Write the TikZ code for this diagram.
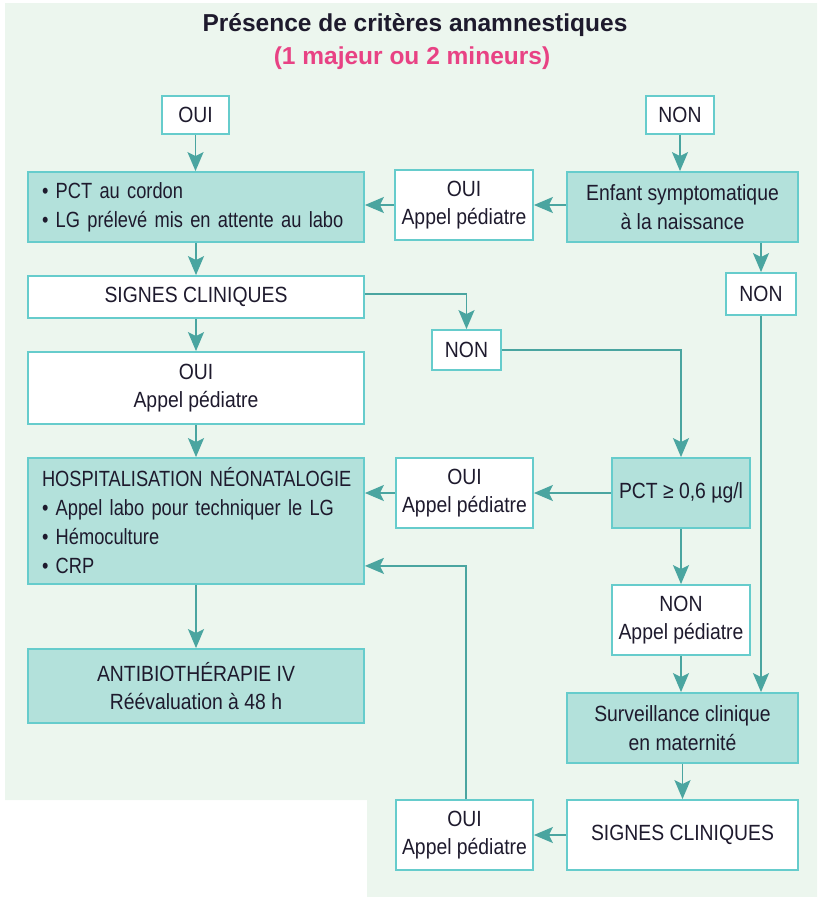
\documentclass[tikz,border=0pt]{standalone}
\usepackage{fontspec}
\setmainfont[FakeStretch=0.88]{Liberation Sans}
\newfontfamily\titlefont{Liberation Sans}
\newfontfamily\narrowfont[FakeStretch=0.83]{Liberation Sans}
\usetikzlibrary{arrows.meta}
\definecolor{bggreen}{RGB}{236,246,238}
\definecolor{boxfill}{RGB}{179,225,219}
\definecolor{boxline}{RGB}{102,204,204}
\definecolor{conn}{RGB}{74,165,160}
\definecolor{txt}{RGB}{30,26,45}
\definecolor{pink}{RGB}{232,66,132}
\tikzset{
  basebox/.style={draw=boxline, line width=1.8pt, inner sep=0pt, align=center, text=txt,
     font=\fontsize{22}{28.5}\selectfont},
  wbox/.style={basebox, fill=white},
  tbox/.style={basebox, fill=boxfill},
  lbox/.style={basebox, fill=boxfill, align=left, inner xsep=14pt, text width=308pt,
     font=\narrowfont\fontsize{22}{29}\selectfont},
  arr/.style={draw=conn, line width=1.8pt, -{Stealth[length=19pt,width=16pt,inset=4pt]}},
}
\begin{document}
\begin{tikzpicture}[x=1pt,y=-1pt]
\useasboundingbox (0,0) rectangle (817,897);
\fill[bggreen] (5,3) -- (817,3) -- (817,897) -- (367,897) -- (367,800) -- (5,800) -- cycle;

\node[text=txt, font=\titlefont\bfseries\fontsize{24.5}{28}\selectfont] (title) at (415,25) {Présence de critères anamnestiques};
\node[text=pink, font=\titlefont\bfseries\fontsize{24.5}{28}\selectfont] (sub) at (412,58) {(1 majeur ou 2 mineurs)};

\node[wbox, minimum width=67pt, minimum height=38pt] (oui1) at (195.5,115) {OUI};
\node[wbox, minimum width=68pt, minimum height=38pt] (non1) at (680,115) {NON};

\node[lbox, minimum height=70pt] (pct) at (196,207) {\mbox{• PCT au cordon}\\\mbox{• LG prélevé mis en attente au labo}};
\node[wbox, minimum width=138pt, minimum height=70pt] (ouiA) at (464,205) {OUI\\Appel pédiatre};
\node[tbox, minimum width=231pt, minimum height=70pt] (enfant) at (682.5,207) {Enfant symptomatique\\à la naissance};

\node[wbox, minimum width=336pt, minimum height=42pt] (sig1) at (196,297) {SIGNES CLINIQUES};
\node[wbox, minimum width=70pt, minimum height=42pt] (non2) at (761,294) {NON};
\node[wbox, minimum width=69pt, minimum height=40pt] (non3) at (466.5,350) {NON};

\node[wbox, minimum width=336pt, minimum height=72pt] (oui2) at (196,388) {OUI\\Appel pédiatre};

\node[lbox, minimum height=126pt] (hosp) at (196,521) {\mbox{HOSPITALISATION NÉONATALOGIE}\\\mbox{• Appel labo pour techniquer le LG}\\\mbox{• Hémoculture}\\\mbox{• CRP}};
\node[wbox, minimum width=137pt, minimum height=70pt] (ouiB) at (464.5,493) {OUI\\Appel pédiatre};
\node[tbox, minimum width=138pt, minimum height=70pt] (pctge) at (681,493) {PCT ≥ 0,6 µg/l};

\node[wbox, minimum width=138pt, minimum height=70pt] (nonAp) at (681,620) {NON\\Appel pédiatre};
\node[tbox, minimum width=336pt, minimum height=74pt] (anti) at (196,686) {ANTIBIOTHÉRAPIE IV\\Réévaluation à 48 h};
\node[tbox, minimum width=231pt, minimum height=70pt] (surv) at (682.5,728) {Surveillance clinique\\en maternité};

\node[wbox, minimum width=231pt, minimum height=70pt] (sig2) at (682.5,835) {SIGNES CLINIQUES};
\node[wbox, minimum width=137pt, minimum height=70pt] (ouiC) at (464.5,835) {OUI\\Appel pédiatre};

\coordinate (hin) at ([yshift=19pt]hosp.south east);

\draw[arr] (oui1.south) -- (oui1.south |- pct.north);
\draw[arr] (non1.south) -- (non1.south |- enfant.north);
\draw[arr] (enfant.west |- ouiA.east) -- (ouiA.east);
\draw[arr] (ouiA.west) -- (ouiA.west -| pct.east);
\draw[arr] (pct.south) -- (sig1.north);
\draw[arr] (non2.north |- enfant.south) -- (non2.north);
\draw[arr] ([yshift=3pt]sig1.east) -| (non3.north);
\draw[arr] (non3.east) -| (pctge.north);
\draw[arr] (non2.south) -- (non2.south |- surv.north);
\draw[arr] (sig1.south) -- (oui2.north);
\draw[arr] (oui2.south) -- (hosp.north);
\draw[arr] (pctge.west) -- (ouiB.east);
\draw[arr] (ouiB.west) -- (ouiB.west -| hosp.east);
\draw[arr] (pctge.south) -- (nonAp.north);
\draw[arr] (nonAp.south) -- (nonAp.south |- surv.north);
\draw[arr] (surv.south) -- (sig2.north);
\draw[arr] (sig2.west) -- (ouiC.east);
\draw[arr] ([xshift=1.5pt]ouiC.north) |- (hin);
\draw[arr] (hosp.south) -- (anti.north);
\end{tikzpicture}
\end{document}
